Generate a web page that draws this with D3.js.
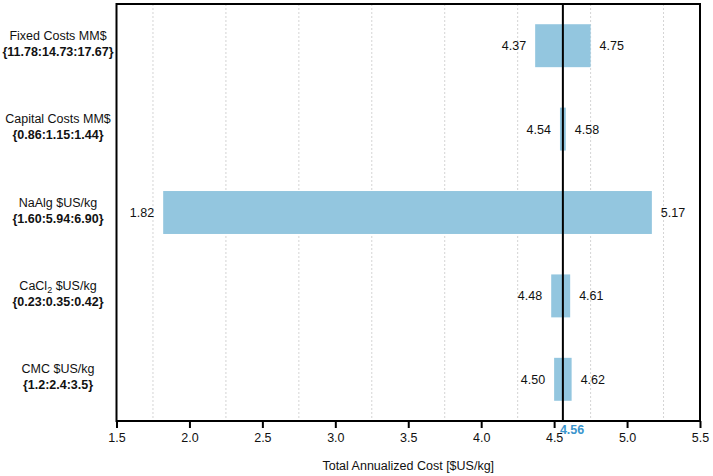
<!DOCTYPE html>
<html><head><meta charset="utf-8">
<script src="https://cdn.jsdelivr.net/npm/d3@7"></script>
<style>body{margin:0;background:#fff}svg{display:block;font-family:"Liberation Sans",Arial,sans-serif}</style>
</head><body>
<svg id="c" width="713" height="476"></svg>
<script>
const categories = ["Fixed Costs MM$", "Capital Costs MM$", "NaAlg $US/kg", "CaCl2 $US/kg", "CMC $US/kg"];
const ranges = ["{11.78:14.73:17.67}", "{0.86:1.15:1.44}", "{1.60:5.94:6.90}", "{0.23:0.35:0.42}", "{1.2:2.4:3.5}"];
const lowValues = [4.37, 4.54, 1.82, 4.48, 4.50];
const highValues = [4.75, 4.58, 5.17, 4.61, 4.62];
const baseValue = 4.56;
const xTicks = [1.5, 2.0, 2.5, 3.0, 3.5, 4.0, 4.5, 5.0, 5.5];
const gridValues = [1.75, 2.25, 2.75, 3.25, 3.75, 4.25, 4.75, 5.25];
const xTitle = "Total Annualized Cost [$US/kg]";

const svg = d3.select("#c");
const L = 116.5, R = 700, T = 4, B = 421;
const x = d3.scaleLinear().domain([1.5, 5.5]).range([L, R]);
const y = d3.scaleBand().domain(categories).range([T, B]).paddingInner(0.485).paddingOuter(0.2425);

// grid
svg.append("g").selectAll("line").data(gridValues).join("line")
  .attr("x1", d => x(d)).attr("x2", d => x(d)).attr("y1", T).attr("y2", B)
  .attr("stroke", "#d4d4d4").attr("stroke-width", 1).attr("stroke-dasharray", "2,2");

// bars
svg.append("g").selectAll("rect").data(categories).join("rect")
  .attr("x", (d, i) => x(lowValues[i]))
  .attr("width", (d, i) => x(highValues[i]) - x(lowValues[i]))
  .attr("y", d => y(d)).attr("height", y.bandwidth())
  .attr("fill", "#93c6df");

// value labels
const vl = svg.append("g").attr("font-size", 12.5).attr("fill", "#111");
categories.forEach((c, i) => {
  const cy = y(c) + y.bandwidth() / 2 + 4.5;
  vl.append("text").attr("x", x(lowValues[i]) - 9).attr("y", cy).attr("text-anchor", "end").text(lowValues[i].toFixed(2));
  vl.append("text").attr("x", x(highValues[i]) + 9).attr("y", cy).attr("text-anchor", "start").text(highValues[i].toFixed(2));
});

// base line
svg.append("line").attr("x1", x(baseValue)).attr("x2", x(baseValue)).attr("y1", T).attr("y2", B)
  .attr("stroke", "#000").attr("stroke-width", 2);

// frame
svg.append("rect").attr("x", L).attr("y", T).attr("width", R - L).attr("height", B - T)
  .attr("fill", "none").attr("stroke", "#000").attr("stroke-width", 2);

// x axis
const ax = svg.append("g").attr("transform", `translate(0,${B})`)
  .call(d3.axisBottom(x).tickValues(xTicks).tickFormat(d3.format(".1f")).tickSize(7).tickPadding(5));
ax.select(".domain").remove();
ax.selectAll(".tick line").attr("stroke", "#000").attr("stroke-width", 2);
ax.selectAll(".tick text").attr("font-size", 12.5).attr("fill", "#111").attr("font-family", "Liberation Sans, Arial, sans-serif");

svg.append("text").attr("x", x(baseValue) - 3).attr("y", B + 13).attr("font-size", 12.5).attr("font-weight", "bold")
  .attr("fill", "#3b95cd").text(baseValue.toFixed(2));

svg.append("text").attr("x", (L + R) / 2).attr("y", B + 49).attr("text-anchor", "middle")
  .attr("font-size", 12.5).attr("fill", "#111").text(xTitle);

// category labels
const cl = svg.append("g").attr("font-size", 12.5).attr("fill", "#111").attr("text-anchor", "middle");
categories.forEach((c, i) => {
  const cy = y(c) + y.bandwidth() / 2;
  const t1 = cl.append("text").attr("x", 58).attr("y", cy - 6);
  if (c.startsWith("CaCl2")) {
    t1.append("tspan").text("CaCl");
    t1.append("tspan").attr("font-size", 9).attr("dy", 3).text("2");
    t1.append("tspan").attr("dy", -3).text(" $US/kg");
  } else {
    t1.text(c);
  }
  cl.append("text").attr("x", 58).attr("y", cy + 10).attr("font-weight", "bold").text(ranges[i]);
});
</script>
</body></html>
